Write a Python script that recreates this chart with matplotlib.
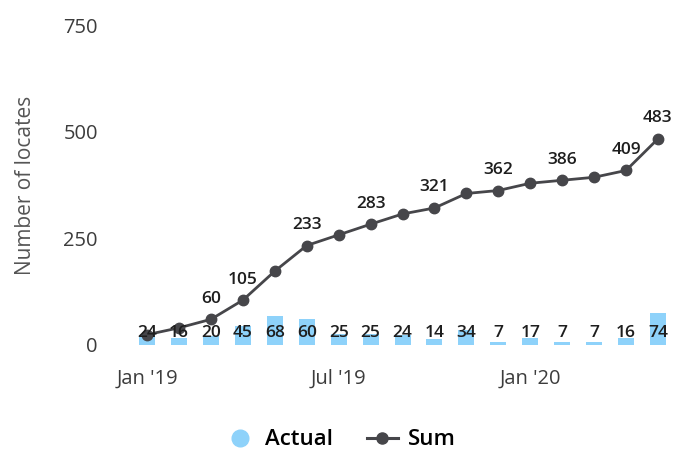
import numpy as np
import matplotlib
matplotlib.use("Agg")
import matplotlib.pyplot as plt
from matplotlib.lines import Line2D

plt.rcParams.update({"font.family": ["Open Sans", "DejaVu Sans"], "font.size": 11})

months = ["Jan '19", "Feb '19", "Mar '19", "Apr '19", "May '19", "Jun '19",
          "Jul '19", "Aug '19", "Sep '19", "Oct '19", "Nov '19", "Dec '19",
          "Jan '20", "Feb '20", "Mar '20", "Apr '20", "May '20"]
actual = [24, 16, 20, 45, 68, 60, 25, 25, 24, 14, 34, 7, 17, 7, 7, 16, 74]
total = [24, 40, 60, 105, 173, 233, 258, 283, 307, 321, 355, 362, 379, 386, 393, 409, 483]
sum_label_idx = [2, 3, 5, 7, 9, 11, 13, 15, 16]
tick_idx = [0, 6, 12]

BLUE = "#8ed2fa"; DARK = "#46464a"; INK = "#1e1e1e"; GREY = "#555555"

fig = plt.figure(figsize=(6.94, 4.55), dpi=100)
ax = fig.add_axes([0.189, 0.242, 0.782, 0.703])
x = np.arange(len(months))

ax.bar(x, actual, width=0.5, color=BLUE, zorder=1)
ax.plot(x, total, color=DARK, lw=2.0, marker="o", ms=7.5, zorder=3)

for xi, v in zip(x, actual):
    ax.annotate(str(v), (xi, 0), xytext=(0, 8.5), textcoords="offset points",
                ha="center", va="center", fontsize=12.5, fontweight="semibold",
                color=INK, zorder=4)
for i in sum_label_idx:
    ax.annotate(str(total[i]), (x[i], total[i]), xytext=(0, 9), textcoords="offset points",
                ha="center", va="bottom", fontsize=12.5, fontweight="semibold",
                color=INK, zorder=4)

ax.set_xlim(-0.5, len(months) - 0.5)
ax.set_ylim(0, 750)
ax.set_yticks([0, 250, 500, 750])
ax.set_xticks([x[i] for i in tick_idx])
ax.set_xticklabels([months[i] for i in tick_idx])
ax.tick_params(length=0, labelsize=14.5, colors="#3c3c3c")
ax.tick_params(axis="y", pad=24)
ax.tick_params(axis="x", pad=17)
for s in ax.spines.values():
    s.set_visible(False)
ax.set_ylabel("Number of locates", fontsize=15, color=GREY)
ax.yaxis.set_label_coords(-0.175, 0.5)

handles = [Line2D([], [], marker="o", ls="none", color=BLUE, ms=12, label="Actual"),
           Line2D([], [], marker="o", color=DARK, lw=2.2, ms=8, label="Sum")]
fig.legend(handles=handles, loc="center", bbox_to_anchor=(0.49, 0.033), ncol=2,
           frameon=False, handlelength=1.4, handletextpad=0.45,
           columnspacing=1.5, prop={"weight": "semibold", "size": 16})

fig.savefig("out.png", dpi=100, facecolor="white")
